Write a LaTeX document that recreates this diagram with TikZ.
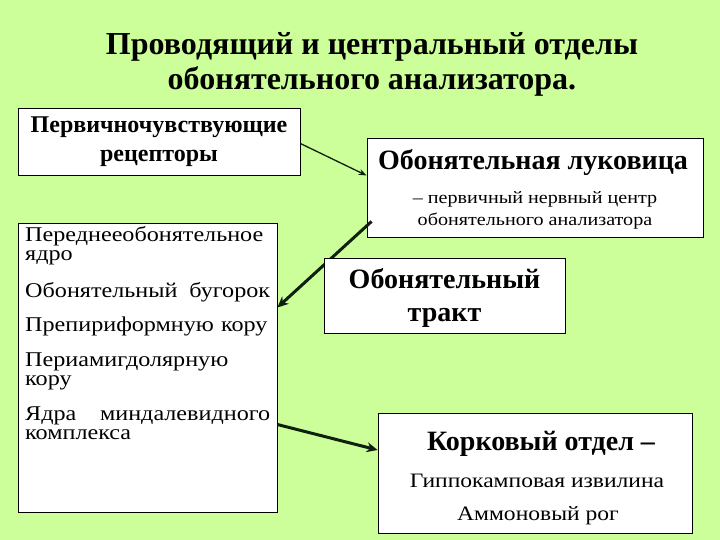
\documentclass[tikz,border=0pt]{standalone}
\usepackage{fontspec}
\setmainfont{Liberation Serif}
\newfontfamily\widerm[FakeStretch=1.15]{Liberation Serif}
\usetikzlibrary{arrows.meta,calc}
\definecolor{bg}{HTML}{CCFF99}
\definecolor{arr}{HTML}{102010}
\begin{document}
\begin{tikzpicture}[x=1pt,y=-1pt,
  box/.style={draw=black,line width=0.8pt,fill=white,inner sep=0pt},
  txt/.style={inner sep=0pt,text=black},
  thinarr/.style={draw=arr,line width=1.3pt,-{Stealth[length=8pt,width=6pt]}},
  thickarr/.style={draw=arr,line width=3pt,-{Stealth[length=11pt,width=10pt]}}]
\fill[bg] (0,0) rectangle (720,540);
\useasboundingbox (0,0) rectangle (720,540);

% title
\node[txt,align=center,font=\fontsize{32}{35}\selectfont\bfseries] (title) at (372,64)
  {Проводящий и центральный отделы\\обонятельного анализатора.};

% boxes
\node[box,minimum width=282pt,minimum height=67pt] (rec) at (159,141.5) {};
\node[box,minimum width=336pt,minimum height=99pt] (bulb) at (535,187.5) {};
\node[box,minimum width=259pt,minimum height=289pt] (list) at (147.5,367.5) {};
\node[box,minimum width=314pt,minimum height=120pt] (cort) at (535,473) {};

% arrows (behind tract box)
\draw[thinarr] ([yshift=-2pt]rec.east) -- ([yshift=12pt]bulb.west);
\draw[thickarr] ([xshift=5pt,yshift=16pt]bulb.south west) -- ([yshift=60pt]list.east);
\draw[thickarr] ([yshift=-57pt]list.east) -- ([yshift=23pt]cort.west);

\node[box,minimum width=241pt,minimum height=75pt] (tract) at (444.5,295.5) {};

% texts
\node[txt,align=center,font=\fontsize{24}{29}\selectfont\bfseries] (rect) at (159,142)
  {Первичночувствующие\\рецепторы};
\node[txt,font=\fontsize{28}{30}\selectfont\bfseries] (bulbt) at (533,163) {Обонятельная луковица};
\node[txt,align=center,font=\fontsize{17.5}{22}\widerm] (bulbs) at (535,210)
  {– первичный нервный центр\\обонятельного анализатора};
\node[txt,align=center,font=\fontsize{28}{33}\selectfont\bfseries] (tractt) at (444.5,298)
  {Обонятельный\\тракт};
\node[txt,font=\fontsize{28}{30}\selectfont\bfseries] (cortt) at (541,444) {Корковый отдел –};
\node[txt,font=\fontsize{20.5}{22}\widerm] (cort1) at (537,481) {Гиппокамповая извилина};
\node[txt,font=\fontsize{20.5}{22}\widerm] (cort2) at (538,516) {Аммоновый рог};

\node[txt,anchor=north west,text width=246pt,align=left,font=\fontsize{21}{19.5}\widerm] (listt) at (25,226)
  {Переднееобонятельное\\ядро\\[16pt]
   \leavevmode\hbox to 245pt{Обонятельный\hfill бугорок}\\[15pt]
   Препириформную кору\\[15pt]
   Периамигдолярную\\кору\\[15pt]
   \leavevmode\hbox to 245pt{Ядра\hfill миндалевидного}\\комплекса};
\end{tikzpicture}
\end{document}
